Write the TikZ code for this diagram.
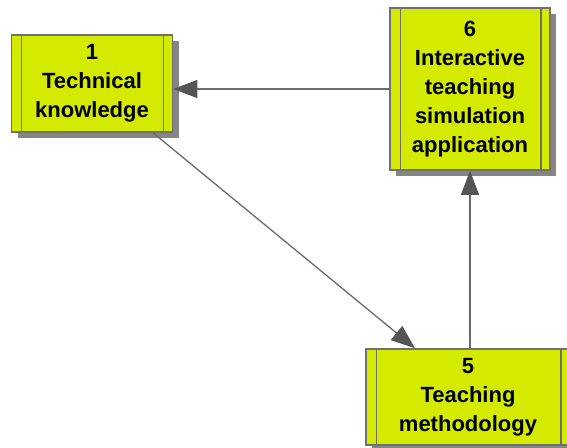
\documentclass[tikz,border=0pt]{standalone}
\usepackage{fontspec}
\setmainfont{Liberation Sans}
\usetikzlibrary{arrows.meta,shadows,calc}
\definecolor{boxfill}{HTML}{D4EB00}
\definecolor{boxline}{HTML}{707070}
\definecolor{shadowc}{HTML}{858585}
\definecolor{edgec}{HTML}{6A6A6A}
\definecolor{headc}{HTML}{555555}
\tikzset{
  topicbox/.style={draw=boxline, line width=1.6pt, fill=boxfill, align=center,
    inner sep=0pt, font=\fontsize{22}{29}\selectfont\bfseries,
    drop shadow={shadow xshift=6pt, shadow yshift=-6pt, fill=shadowc, opacity=1}},
  link/.style={draw=edgec, line width=1.3pt,
    -{Triangle[length=24pt,width=18pt,fill=headc,color=headc]}}
}
\begin{document}
\begin{tikzpicture}[x=1pt,y=-1pt]
\useasboundingbox (0,0) rectangle (567,447);
\node[topicbox, minimum width=161pt, minimum height=97pt] (b1) at (92,83.5)
  {1\\Technical\\knowledge};
\node[topicbox, minimum width=160pt, minimum height=162pt] (b6) at (470,89)
  {6\\Interactive\\teaching\\simulation\\application};
\node[topicbox, minimum width=204pt, minimum height=96pt] (b5) at (468,397)
  {5\\Teaching\\methodology};
\foreach \n in {b1,b6,b5}{
  \draw[boxline, line width=1.4pt] ([xshift=11pt]\n.north west) -- ([xshift=11pt]\n.south west);
  \draw[boxline, line width=1.4pt] ([xshift=-10pt]\n.north east) -- ([xshift=-10pt]\n.south east);
}
\draw[link] (b6.west) -- (b6.west -| b1.east);
\draw[link] (b5.north -| b6.south) -- (b6.south);
\draw[link] ([xshift=61pt]b1.south) -- ([xshift=-53pt]b5.north);
\end{tikzpicture}
\end{document}
